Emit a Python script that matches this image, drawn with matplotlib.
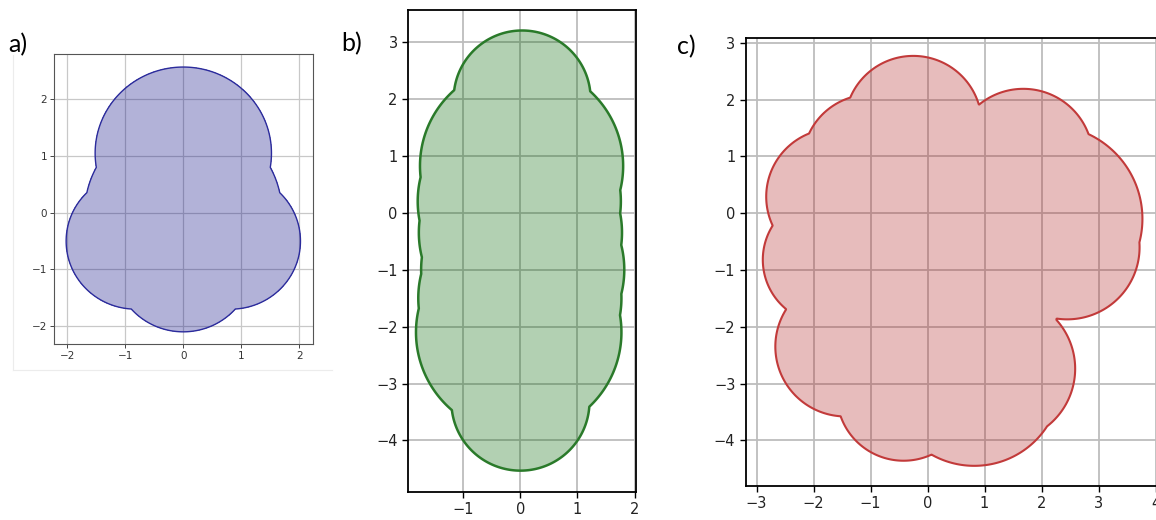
import numpy as np
import matplotlib
matplotlib.use("Agg")
import matplotlib.pyplot as plt
from matplotlib.lines import Line2D

# ---- shape data: each outline is the boundary of a union of discs ----
# a) trefoil-like shape
a_cx = [0.0, 0.0, -0.82, 0.82, 0.0]
a_cy = [1.05, 0.0, -0.5, -0.5, -0.9]
a_r = [1.52, 1.70, 1.20, 1.20, 1.20]

# b) tall column
b_cx = [0.03, 0.02, -0.02, 0.0, 0.04, -0.01, -0.03, 0.0]
b_cy = [2.0, 0.82, 0.2, -0.35, -1.0, -1.5, -2.1, -3.32]
b_r = [1.20, 1.78, 1.78, 1.78, 1.78, 1.78, 1.80, 1.21]

# c) irregular cloud
c_cx = [-0.25, 1.68, 2.12, 2.45, 1.30, 0.82, -0.42, -1.44, -1.76, -1.63, -1.00, 0.0, 0.5]
c_cy = [1.57, 0.97, -0.10, -0.60, -2.74, -2.93, -3.19, -2.35, -0.82, 0.29, 0.90, 0.0, -1.5]
c_r = [1.20, 1.22, 1.65, 1.27, 1.29, 1.52, 1.17, 1.23, 1.13, 1.20, 1.19, 1.80, 1.80]

a_ticks_x = [-2, -1, 0, 1, 2]
a_ticks_y = [-2, -1, 0, 1, 2]
b_ticks_x = [-1, 0, 1, 2]
b_ticks_y = [-4, -3, -2, -1, 0, 1, 2, 3]
c_ticks_x = [-3, -2, -1, 0, 1, 2, 3, 4]
c_ticks_y = [-4, -3, -2, -1, 0, 1, 2, 3]

panel_labels = ["a)", "b)", "c)"]


def union_field(cx, cy, r, xlim, ylim, n=900):
    xs = np.linspace(xlim[0], xlim[1], n)
    ys = np.linspace(ylim[0], ylim[1], n)
    X, Y = np.meshgrid(xs, ys)
    d = np.max([ri - np.hypot(X - xi, Y - yi) for xi, yi, ri in zip(cx, cy, r)], axis=0)
    return X, Y, d


def draw_shape(ax, cx, cy, r, xlim, ylim, fill, edge, lw):
    X, Y, d = union_field(cx, cy, r, xlim, ylim)
    ax.contourf(X, Y, d, levels=[0, d.max() + 1], colors=[fill], alpha=0.3, zorder=2)
    ax.contour(X, Y, d, levels=[0], colors=[edge], linewidths=lw, zorder=3)
    ax.set_xlim(xlim)
    ax.set_ylim(ylim)


fig = plt.figure(figsize=(11.56, 5.2), dpi=100)

W, H = 1156.0, 520.0


def add_axes_px(left, top, right, bottom):
    return fig.add_axes([left / W, 1 - bottom / H, (right - left) / W, (bottom - top) / H])


# faint frame of the small panel
fig.add_artist(Line2D([13 / W, 13 / W], [1 - 55 / H, 1 - 370 / H], color="#ececec", lw=0.8))
fig.add_artist(Line2D([13 / W, 332 / W], [1 - 370 / H, 1 - 370 / H], color="#ececec", lw=0.8))

# panel a (small)
ax1 = add_axes_px(54.3, 54, 312.7, 344.3)
draw_shape(ax1, a_cx, a_cy, a_r, (-2.224, 2.231), (-2.32, 2.80), "navy", "#2b2b9c", 1.0)
ax1.set_xticks(a_ticks_x)
ax1.set_yticks(a_ticks_y)
ax1.grid(True, color="#c8c8c8", lw=0.9, zorder=1)
ax1.tick_params(labelsize=7.5, length=3, width=0.7, color="#444444", labelcolor="#333333", pad=2)
for s in ax1.spines.values():
    s.set_color("#555555")
    s.set_linewidth(0.8)

# panel b
ax2 = add_axes_px(408, 10, 635.7, 491.7)
draw_shape(ax2, b_cx, b_cy, b_r, (-1.97, 2.02), (-4.90, 3.56), "darkgreen", "#2a7a2a", 1.8)
ax2.set_xticks(b_ticks_x)
ax2.set_yticks(b_ticks_y)
ax2.grid(True, color="#bdbdbd", lw=1.3, zorder=1)
ax2.tick_params(labelsize=10.5, length=4, width=1.0, labelcolor="#222222")
for s in ax2.spines.values():
    s.set_linewidth(1.3)

# panel c (runs past the right edge)
ax3 = add_axes_px(745.7, 38.3, 745.7 + 7.44 * 57.0, 485.7)
draw_shape(ax3, c_cx, c_cy, c_r, (-3.19, 4.25), (-4.80, 3.08), "firebrick", "#c23a3a", 1.5)
ax3.set_xticks(c_ticks_x)
ax3.set_yticks(c_ticks_y)
ax3.grid(True, color="#bdbdbd", lw=1.3, zorder=1)
ax3.tick_params(labelsize=10.5, length=4, width=1.0, labelcolor="#222222")
for s in ax3.spines.values():
    s.set_linewidth(1.3)

# panel letters
for x, y, txt in zip([8, 341, 677], [45, 44, 47], panel_labels):
    fig.text(x / W, 1 - y / H, txt, fontsize=18, family=["Lato", "DejaVu Sans"],
             va="center", ha="left")

fig.savefig("out.png", dpi=100)
